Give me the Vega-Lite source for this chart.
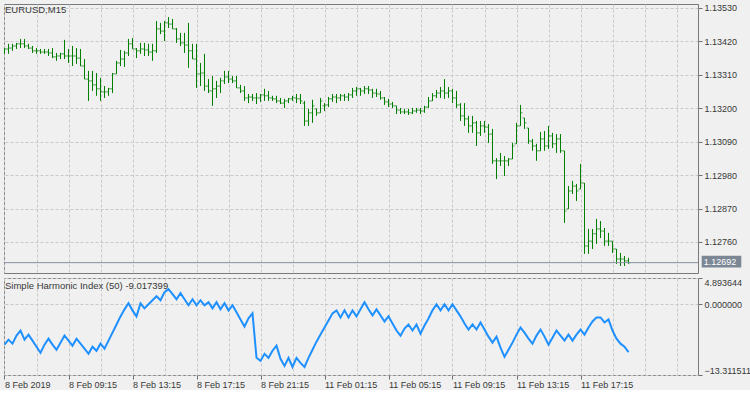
{
"$schema": "https://vega.github.io/schema/vega-lite/v6.json",
"background": "#f0f0f0",
"padding": {"left": 3, "top": 3, "right": 0, "bottom": 0},
"spacing": 3,
"config": {
"view": {"stroke": "#7a7a7a", "strokeWidth": 1, "fill": "#f0f0f0"},
"font": "Liberation Sans",
"axis": {"labelFont": "Liberation Sans", "labelFontSize": 9, "labelColor": "#383838", "tickColor": "#707070", "domain": false, "gridColor": "#c8c8c8", "gridDash": [3, 2], "gridWidth": 1, "labelOverlap": false, "labelBound": false},
"title": {"font": "Liberation Sans", "fontSize": 9.5, "fontWeight": "normal", "color": "#383838", "anchor": "start", "frame": "group"}
},
"datasets": {"bars": [
{"i":0,"o":1.13385,"h":1.13398,"l":1.13379,"c":1.13395,"v":-7.62},
{"i":1,"o":1.13395,"h":1.13412,"l":1.13379,"c":1.13398,"v":-6.68},
{"i":2,"o":1.13398,"h":1.13412,"l":1.13389,"c":1.13405,"v":-7.43},
{"i":3,"o":1.13405,"h":1.13415,"l":1.13395,"c":1.13412,"v":-5.92},
{"i":4,"o":1.13412,"h":1.13428,"l":1.13398,"c":1.13412,"v":-4.97},
{"i":5,"o":1.13412,"h":1.13428,"l":1.13398,"c":1.13405,"v":-6.68},
{"i":6,"o":1.13405,"h":1.13412,"l":1.13395,"c":1.13398,"v":-5.73},
{"i":7,"o":1.13398,"h":1.13405,"l":1.13382,"c":1.13389,"v":-6.86},
{"i":8,"o":1.13389,"h":1.13398,"l":1.13379,"c":1.13389,"v":-8.00},
{"i":9,"o":1.13389,"h":1.13395,"l":1.13379,"c":1.13385,"v":-9.14},
{"i":10,"o":1.13385,"h":1.13395,"l":1.13379,"c":1.13385,"v":-7.62},
{"i":11,"o":1.13385,"h":1.13395,"l":1.13372,"c":1.13382,"v":-6.49},
{"i":12,"o":1.13382,"h":1.13398,"l":1.13365,"c":1.13369,"v":-7.62},
{"i":13,"o":1.13369,"h":1.13382,"l":1.13356,"c":1.13372,"v":-8.57},
{"i":14,"o":1.13372,"h":1.13382,"l":1.13362,"c":1.13379,"v":-7.24},
{"i":15,"o":1.13379,"h":1.13425,"l":1.13362,"c":1.13372,"v":-5.92},
{"i":16,"o":1.13372,"h":1.13395,"l":1.13349,"c":1.13372,"v":-6.86},
{"i":17,"o":1.13372,"h":1.13405,"l":1.13339,"c":1.13372,"v":-7.81},
{"i":18,"o":1.13372,"h":1.13398,"l":1.13346,"c":1.13365,"v":-6.49},
{"i":19,"o":1.13365,"h":1.13395,"l":1.13339,"c":1.13339,"v":-7.43},
{"i":20,"o":1.13339,"h":1.13362,"l":1.13296,"c":1.13296,"v":-8.38},
{"i":21,"o":1.13296,"h":1.13323,"l":1.13224,"c":1.13290,"v":-9.33},
{"i":22,"o":1.13290,"h":1.13323,"l":1.13257,"c":1.13277,"v":-8.00},
{"i":23,"o":1.13277,"h":1.13316,"l":1.13241,"c":1.13264,"v":-8.76},
{"i":24,"o":1.13264,"h":1.13300,"l":1.13224,"c":1.13254,"v":-7.43},
{"i":25,"o":1.13254,"h":1.13273,"l":1.13234,"c":1.13254,"v":-8.38},
{"i":26,"o":1.13254,"h":1.13267,"l":1.13241,"c":1.13264,"v":-6.86},
{"i":27,"o":1.13264,"h":1.13316,"l":1.13250,"c":1.13313,"v":-5.35},
{"i":28,"o":1.13313,"h":1.13356,"l":1.13313,"c":1.13349,"v":-3.83},
{"i":29,"o":1.13349,"h":1.13392,"l":1.13339,"c":1.13362,"v":-2.31},
{"i":30,"o":1.13362,"h":1.13389,"l":1.13336,"c":1.13382,"v":-0.99},
{"i":31,"o":1.13382,"h":1.13428,"l":1.13372,"c":1.13412,"v":0.15},
{"i":32,"o":1.13412,"h":1.13431,"l":1.13395,"c":1.13395,"v":-1.18},
{"i":33,"o":1.13395,"h":1.13398,"l":1.13365,"c":1.13389,"v":-2.31},
{"i":34,"o":1.13389,"h":1.13415,"l":1.13379,"c":1.13395,"v":0.15},
{"i":35,"o":1.13395,"h":1.13415,"l":1.13372,"c":1.13392,"v":-0.80},
{"i":36,"o":1.13392,"h":1.13412,"l":1.13372,"c":1.13385,"v":-0.04},
{"i":37,"o":1.13385,"h":1.13412,"l":1.13356,"c":1.13389,"v":0.72},
{"i":38,"o":1.13389,"h":1.13487,"l":1.13382,"c":1.13461,"v":1.48},
{"i":39,"o":1.13461,"h":1.13481,"l":1.13444,"c":1.13454,"v":0.72},
{"i":40,"o":1.13454,"h":1.13487,"l":1.13421,"c":1.13481,"v":2.24},
{"i":41,"o":1.13481,"h":1.13500,"l":1.13464,"c":1.13477,"v":2.81},
{"i":42,"o":1.13477,"h":1.13494,"l":1.13461,"c":1.13461,"v":1.86},
{"i":43,"o":1.13461,"h":1.13464,"l":1.13415,"c":1.13428,"v":0.91},
{"i":44,"o":1.13428,"h":1.13448,"l":1.13405,"c":1.13415,"v":2.05},
{"i":45,"o":1.13415,"h":1.13448,"l":1.13382,"c":1.13408,"v":0.91},
{"i":46,"o":1.13408,"h":1.13481,"l":1.13333,"c":1.13389,"v":-0.23},
{"i":47,"o":1.13389,"h":1.13412,"l":1.13362,"c":1.13362,"v":0.91},
{"i":48,"o":1.13362,"h":1.13412,"l":1.13267,"c":1.13313,"v":-0.23},
{"i":49,"o":1.13313,"h":1.13349,"l":1.13273,"c":1.13316,"v":0.72},
{"i":50,"o":1.13316,"h":1.13379,"l":1.13257,"c":1.13273,"v":-0.23},
{"i":51,"o":1.13273,"h":1.13296,"l":1.13250,"c":1.13257,"v":0.34},
{"i":52,"o":1.13257,"h":1.13306,"l":1.13208,"c":1.13264,"v":-0.80},
{"i":53,"o":1.13264,"h":1.13290,"l":1.13234,"c":1.13273,"v":0.34},
{"i":54,"o":1.13273,"h":1.13300,"l":1.13250,"c":1.13290,"v":-0.99},
{"i":55,"o":1.13290,"h":1.13323,"l":1.13280,"c":1.13303,"v":0.15},
{"i":56,"o":1.13303,"h":1.13323,"l":1.13283,"c":1.13296,"v":-1.18},
{"i":57,"o":1.13296,"h":1.13306,"l":1.13283,"c":1.13290,"v":-0.23},
{"i":58,"o":1.13290,"h":1.13306,"l":1.13267,"c":1.13267,"v":-1.55},
{"i":59,"o":1.13267,"h":1.13277,"l":1.13250,"c":1.13257,"v":-2.88},
{"i":60,"o":1.13257,"h":1.13273,"l":1.13224,"c":1.13234,"v":-4.21},
{"i":61,"o":1.13234,"h":1.13247,"l":1.13217,"c":1.13237,"v":-2.69},
{"i":62,"o":1.13237,"h":1.13247,"l":1.13224,"c":1.13234,"v":-1.74},
{"i":63,"o":1.13234,"h":1.13250,"l":1.13214,"c":1.13234,"v":-10.09},
{"i":64,"o":1.13234,"h":1.13247,"l":1.13221,"c":1.13244,"v":-10.66},
{"i":65,"o":1.13244,"h":1.13264,"l":1.13224,"c":1.13241,"v":-9.33},
{"i":66,"o":1.13241,"h":1.13257,"l":1.13224,"c":1.13234,"v":-10.09},
{"i":67,"o":1.13234,"h":1.13241,"l":1.13224,"c":1.13231,"v":-8.76},
{"i":68,"o":1.13231,"h":1.13241,"l":1.13217,"c":1.13224,"v":-7.81},
{"i":69,"o":1.13224,"h":1.13234,"l":1.13214,"c":1.13217,"v":-10.28},
{"i":70,"o":1.13217,"h":1.13231,"l":1.13201,"c":1.13224,"v":-11.61},
{"i":71,"o":1.13224,"h":1.13234,"l":1.13217,"c":1.13231,"v":-10.09},
{"i":72,"o":1.13231,"h":1.13241,"l":1.13224,"c":1.13234,"v":-11.80},
{"i":73,"o":1.13234,"h":1.13247,"l":1.13217,"c":1.13231,"v":-10.09},
{"i":74,"o":1.13231,"h":1.13247,"l":1.13214,"c":1.13224,"v":-11.04},
{"i":75,"o":1.13217,"h":1.13224,"l":1.13142,"c":1.13158,"v":-11.80},
{"i":76,"o":1.13158,"h":1.13198,"l":1.13142,"c":1.13185,"v":-10.09},
{"i":77,"o":1.13185,"h":1.13228,"l":1.13152,"c":1.13208,"v":-8.57},
{"i":78,"o":1.13198,"h":1.13198,"l":1.13175,"c":1.13185,"v":-7.05},
{"i":79,"o":1.13185,"h":1.13234,"l":1.13185,"c":1.13224,"v":-5.73},
{"i":80,"o":1.13208,"h":1.13217,"l":1.13191,"c":1.13211,"v":-4.40},
{"i":81,"o":1.13211,"h":1.13237,"l":1.13204,"c":1.13231,"v":-3.07},
{"i":82,"o":1.13231,"h":1.13247,"l":1.13221,"c":1.13237,"v":-1.74},
{"i":83,"o":1.13237,"h":1.13247,"l":1.13217,"c":1.13234,"v":-1.18},
{"i":84,"o":1.13234,"h":1.13247,"l":1.13224,"c":1.13241,"v":-2.50},
{"i":85,"o":1.13241,"h":1.13247,"l":1.13224,"c":1.13237,"v":-1.18},
{"i":86,"o":1.13237,"h":1.13250,"l":1.13224,"c":1.13244,"v":-2.50},
{"i":87,"o":1.13244,"h":1.13267,"l":1.13234,"c":1.13257,"v":-1.18},
{"i":88,"o":1.13257,"h":1.13270,"l":1.13241,"c":1.13264,"v":-2.31},
{"i":89,"o":1.13264,"h":1.13267,"l":1.13241,"c":1.13257,"v":-0.99},
{"i":90,"o":1.13257,"h":1.13273,"l":1.13247,"c":1.13264,"v":0.34},
{"i":91,"o":1.13264,"h":1.13273,"l":1.13247,"c":1.13260,"v":-0.99},
{"i":92,"o":1.13260,"h":1.13264,"l":1.13234,"c":1.13250,"v":-2.12},
{"i":93,"o":1.13250,"h":1.13264,"l":1.13237,"c":1.13247,"v":-0.99},
{"i":94,"o":1.13247,"h":1.13257,"l":1.13228,"c":1.13234,"v":-2.12},
{"i":95,"o":1.13234,"h":1.13237,"l":1.13211,"c":1.13221,"v":-3.26},
{"i":96,"o":1.13221,"h":1.13231,"l":1.13204,"c":1.13214,"v":-2.31},
{"i":97,"o":1.13214,"h":1.13221,"l":1.13201,"c":1.13208,"v":-3.64},
{"i":98,"o":1.13208,"h":1.13208,"l":1.13181,"c":1.13194,"v":-4.97},
{"i":99,"o":1.13194,"h":1.13201,"l":1.13181,"c":1.13188,"v":-5.92},
{"i":100,"o":1.13188,"h":1.13198,"l":1.13181,"c":1.13188,"v":-4.59},
{"i":101,"o":1.13188,"h":1.13198,"l":1.13178,"c":1.13185,"v":-3.83},
{"i":102,"o":1.13185,"h":1.13201,"l":1.13181,"c":1.13191,"v":-4.97},
{"i":103,"o":1.13191,"h":1.13201,"l":1.13185,"c":1.13194,"v":-3.83},
{"i":104,"o":1.13194,"h":1.13201,"l":1.13181,"c":1.13191,"v":-5.54},
{"i":105,"o":1.13191,"h":1.13208,"l":1.13185,"c":1.13204,"v":-4.02},
{"i":106,"o":1.13204,"h":1.13237,"l":1.13201,"c":1.13224,"v":-2.69},
{"i":107,"o":1.13224,"h":1.13250,"l":1.13224,"c":1.13241,"v":-1.18},
{"i":108,"o":1.13241,"h":1.13260,"l":1.13234,"c":1.13250,"v":-0.04},
{"i":109,"o":1.13250,"h":1.13270,"l":1.13234,"c":1.13257,"v":-1.18},
{"i":110,"o":1.13257,"h":1.13296,"l":1.13231,"c":1.13250,"v":-0.04},
{"i":111,"o":1.13250,"h":1.13270,"l":1.13234,"c":1.13257,"v":-1.18},
{"i":112,"o":1.13257,"h":1.13264,"l":1.13217,"c":1.13234,"v":-0.04},
{"i":113,"o":1.13234,"h":1.13257,"l":1.13201,"c":1.13211,"v":-1.18},
{"i":114,"o":1.13211,"h":1.13217,"l":1.13158,"c":1.13175,"v":-2.31},
{"i":115,"o":1.13175,"h":1.13217,"l":1.13142,"c":1.13165,"v":-3.64},
{"i":116,"o":1.13165,"h":1.13175,"l":1.13119,"c":1.13142,"v":-4.78},
{"i":117,"o":1.13142,"h":1.13175,"l":1.13119,"c":1.13152,"v":-3.83},
{"i":118,"o":1.13152,"h":1.13158,"l":1.13076,"c":1.13119,"v":-4.78},
{"i":119,"o":1.13119,"h":1.13158,"l":1.13109,"c":1.13142,"v":-3.45},
{"i":120,"o":1.13142,"h":1.13158,"l":1.13119,"c":1.13138,"v":-4.78},
{"i":121,"o":1.13138,"h":1.13148,"l":1.13086,"c":1.13115,"v":-6.11},
{"i":122,"o":1.13115,"h":1.13132,"l":1.13017,"c":1.13027,"v":-7.24},
{"i":123,"o":1.13027,"h":1.13036,"l":1.12967,"c":1.13027,"v":-6.11},
{"i":124,"o":1.13027,"h":1.13053,"l":1.13010,"c":1.13027,"v":-8.19},
{"i":125,"o":1.13027,"h":1.13043,"l":1.12977,"c":1.13027,"v":-9.90},
{"i":126,"o":1.13027,"h":1.13036,"l":1.13010,"c":1.13033,"v":-8.57},
{"i":127,"o":1.13033,"h":1.13086,"l":1.13033,"c":1.13076,"v":-7.24},
{"i":128,"o":1.13083,"h":1.13152,"l":1.13083,"c":1.13142,"v":-5.73},
{"i":129,"o":1.13142,"h":1.13211,"l":1.13142,"c":1.13185,"v":-4.40},
{"i":130,"o":1.13168,"h":1.13168,"l":1.13132,"c":1.13152,"v":-5.35},
{"i":131,"o":1.13135,"h":1.13135,"l":1.13083,"c":1.13092,"v":-6.49},
{"i":132,"o":1.13092,"h":1.13099,"l":1.13060,"c":1.13076,"v":-7.43},
{"i":133,"o":1.13076,"h":1.13083,"l":1.13027,"c":1.13060,"v":-5.92},
{"i":134,"o":1.13060,"h":1.13122,"l":1.13060,"c":1.13099,"v":-4.78},
{"i":135,"o":1.13099,"h":1.13125,"l":1.13060,"c":1.13076,"v":-6.11},
{"i":136,"o":1.13076,"h":1.13142,"l":1.13066,"c":1.13109,"v":-7.62},
{"i":137,"o":1.13109,"h":1.13119,"l":1.13069,"c":1.13083,"v":-6.30},
{"i":138,"o":1.13083,"h":1.13115,"l":1.13053,"c":1.13099,"v":-4.97},
{"i":139,"o":1.13099,"h":1.13115,"l":1.13053,"c":1.13060,"v":-5.92},
{"i":140,"o":1.13060,"h":1.13060,"l":1.12823,"c":1.12862,"v":-6.86},
{"i":141,"o":1.12869,"h":1.12944,"l":1.12869,"c":1.12928,"v":-5.73},
{"i":142,"o":1.12928,"h":1.12961,"l":1.12918,"c":1.12944,"v":-6.86},
{"i":143,"o":1.12944,"h":1.12951,"l":1.12895,"c":1.12928,"v":-5.73},
{"i":144,"o":1.12934,"h":1.13017,"l":1.12934,"c":1.12954,"v":-4.78},
{"i":145,"o":1.12954,"h":1.12954,"l":1.12721,"c":1.12747,"v":-5.73},
{"i":146,"o":1.12747,"h":1.12803,"l":1.12721,"c":1.12763,"v":-4.40},
{"i":147,"o":1.12763,"h":1.12803,"l":1.12737,"c":1.12787,"v":-3.26},
{"i":148,"o":1.12787,"h":1.12836,"l":1.12754,"c":1.12803,"v":-2.50},
{"i":149,"o":1.12803,"h":1.12829,"l":1.12773,"c":1.12796,"v":-2.50},
{"i":150,"o":1.12796,"h":1.12806,"l":1.12747,"c":1.12763,"v":-3.45},
{"i":151,"o":1.12763,"h":1.12790,"l":1.12747,"c":1.12763,"v":-2.88},
{"i":152,"o":1.12763,"h":1.12763,"l":1.12724,"c":1.12737,"v":-4.97},
{"i":153,"o":1.12737,"h":1.12737,"l":1.12688,"c":1.12704,"v":-6.49},
{"i":154,"o":1.12704,"h":1.12724,"l":1.12681,"c":1.12704,"v":-7.43},
{"i":155,"o":1.12704,"h":1.12714,"l":1.12681,"c":1.12698,"v":-8.00},
{"i":156,"o":1.12698,"h":1.12708,"l":1.12688,"c":1.12692,"v":-9.017399}
]},
"vconcat": [
{
"width": 694,
"height": 269,
"title": {"text": "EURUSD,M15", "offset": -11, "dx": 1},
"layer": [
{
"data": {"name": "bars"},
"mark": {"type": "rule", "color": "#008000", "strokeWidth": 1, "clip": true},
"encoding": {
"x": {"field": "i", "type": "quantitative", "scale": {"domain": [-0.125, 173.375], "nice": false, "zero": false},
"axis": {"values": [0,8,16,24,32,40,48,56,64,72,80,88,96,104,112,120,128,136,144,152,160,168], "tickCount": 100, "labels": false, "ticks": false, "domain": false, "grid": true, "title": null}},
"y": {"field": "l", "type": "quantitative", "scale": {"domain": [1.12658, 1.13543], "nice": false, "zero": false},
"axis": {"orient": "right", "values": [1.1276, 1.1287, 1.1298, 1.1309, 1.132, 1.1331, 1.1342, 1.1353], "tickCount": 100, "format": ".5f", "tickSize": 4, "labelPadding": 2, "labelOverlap": false, "labelFlush": false, "grid": true, "title": null}},
"y2": {"field": "h"}
}
},
{
"data": {"name": "bars"},
"mark": {"type": "tick", "orient": "horizontal", "color": "#008000", "size": 2, "thickness": 1, "xOffset": -1, "clip": true},
"encoding": {
"x": {"field": "i", "type": "quantitative", "title": null},
"y": {"field": "o", "type": "quantitative", "title": null}
}
},
{
"data": {"name": "bars"},
"mark": {"type": "tick", "orient": "horizontal", "color": "#008000", "size": 2, "thickness": 1, "xOffset": 1, "clip": true},
"encoding": {
"x": {"field": "i", "type": "quantitative", "title": null},
"y": {"field": "c", "type": "quantitative", "title": null}
}
},
{
"data": {"values": [{"label": "1.12692"}]},
"mark": {"type": "rule", "color": "#8490a0", "strokeWidth": 1},
"encoding": {"y": {"datum": 1.12692, "type": "quantitative", "title": null}}
},
{
"data": {"values": [{"label": "1.12692"}]},
"mark": {"type": "rect", "color": "#7b8794"},
"encoding": {
"x": {"datum": 174.3, "type": "quantitative", "title": null},
"x2": {"datum": 184.2},
"y": {"datum": 1.12715, "type": "quantitative", "title": null},
"y2": {"datum": 1.12676}
}
},
{
"data": {"values": [{"label": "1.12692"}]},
"mark": {"type": "text", "color": "#ffffff", "align": "left", "baseline": "middle", "fontSize": 9, "font": "Liberation Sans", "dx": 2},
"encoding": {
"x": {"datum": 174.3, "type": "quantitative", "title": null},
"y": {"datum": 1.12695, "type": "quantitative", "title": null},
"text": {"field": "label"}
}
}
]
},
{
"width": 694,
"height": 97,
"title": {"text": "Simple Harmonic Index (50) -9.017399", "offset": -13, "dx": 1},
"data": {"name": "bars"},
"mark": {"type": "line", "color": "#1e90ff", "strokeWidth": 2, "clip": true},
"encoding": {
"x": {"field": "i", "type": "quantitative", "scale": {"domain": [-0.125, 173.375], "nice": false, "zero": false},
"axis": {"values": [0,8,16,24,32,40,48,56,64,72,80,88,96,104,112,120,128,136,144,152,160,168], "tickCount": 100,
"labelExpr": "datum.value % 16 == 0 && datum.value < 160 ? ['8 Feb 2019','8 Feb 09:15','8 Feb 13:15','8 Feb 17:15','8 Feb 21:15','11 Feb 01:15','11 Feb 05:15','11 Feb 09:15','11 Feb 13:15','11 Feb 17:15'][datum.value / 16] : ''",
"tickOpacity": {"condition": {"test": "datum.value % 16 == 0 && datum.value < 160", "value": 1}, "value": 0},
"tickSize": 4, "labelAlign": "left", "labelPadding": 1, "labelOverlap": false, "labelFlush": false, "labelBound": false, "grid": true, "title": null}},
"y": {"field": "v", "type": "quantitative", "scale": {"domain": [-13.311511, 4.893644], "nice": false, "zero": false},
"axis": {"orient": "right", "values": [4.893644, 0, -13.311511], "tickCount": 100, "format": ".6f", "tickSize": 4, "labelPadding": 2, "labelFlush": true, "labelOverlap": false, "grid": true, "title": null}}
}
}
]
}
